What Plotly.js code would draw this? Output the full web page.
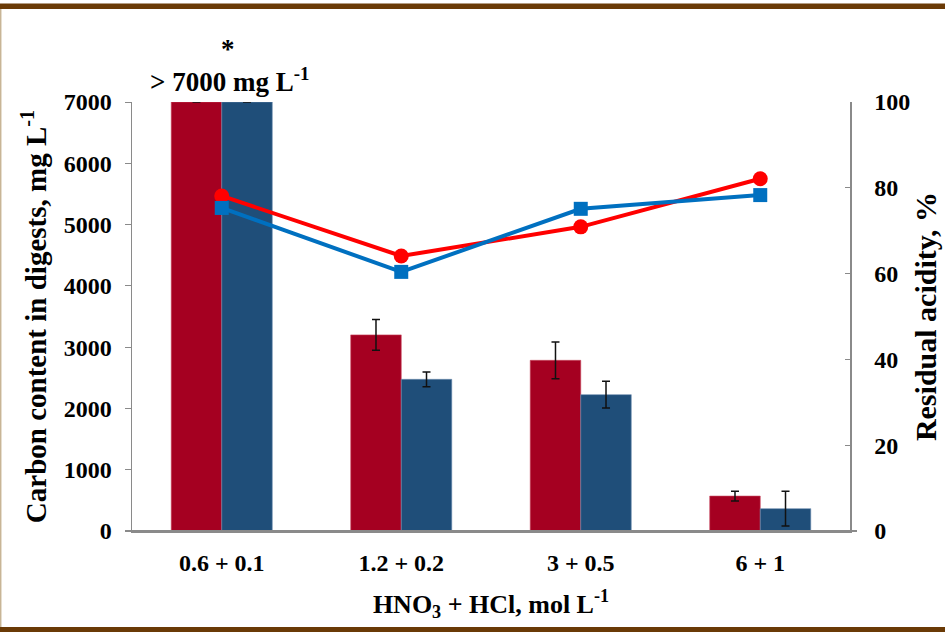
<!DOCTYPE html>
<html>
<head>
<meta charset="utf-8">
<script src="https://cdn.plot.ly/plotly-3.0.1.min.js"></script>
<style>
html,body{margin:0;padding:0;background:#fff;}
#chart{width:945px;height:632px;}
</style>
</head>
<body>
<div id="chart"></div>
<script>
// Data
const categories = ["0.6 + 0.1", "1.2 + 0.2", "3 + 0.5", "6 + 1"];
const carbonRed = [7000, 3200, 2785, 570];
const carbonRedErr = [0, 250, 300, 80];
const carbonBlue = [7000, 2475, 2225, 365];
const carbonBlueErr = [0, 120, 220, 285];
const acidityRed = [78.1, 64.1, 70.9, 82.1];
const acidityBlue = [75.3, 60.4, 75.1, 78.3];
const leftTicks = [0, 1000, 2000, 3000, 4000, 5000, 6000, 7000];
const rightTicks = [0, 20, 40, 60, 80, 100];

const FONT = "Liberation Serif, Times New Roman, serif";
const BRED = "#A50021", BBLUE = "#1F4E79";
const LRED = "#FF0000", LBLUE = "#0070C0";

const traces = [
  {
    type: "bar", x: categories, y: carbonRed, name: "C red",
    marker: {color: BRED, line: {color: "#c9485f", width: 0.6}},
    error_y: {type: "data", array: carbonRedErr, visible: true, color: "#111", thickness: 1.5, width: 4}
  },
  {
    type: "bar", x: categories, y: carbonBlue, name: "C blue",
    marker: {color: BBLUE, line: {color: "#6f8fb0", width: 0.6}},
    error_y: {type: "data", array: carbonBlueErr, visible: true, color: "#111", thickness: 1.5, width: 4}
  },
  {
    type: "scatter", mode: "lines+markers", x: categories, y: acidityRed, yaxis: "y2",
    line: {color: LRED, width: 4}, marker: {symbol: "circle", size: 15, color: LRED},
    cliponaxis: false
  },
  {
    type: "scatter", mode: "lines+markers", x: categories, y: acidityBlue, yaxis: "y2",
    line: {color: LBLUE, width: 4}, marker: {symbol: "square", size: 14, color: LBLUE},
    cliponaxis: false
  }
];

const px = v => (v - 132) / 718;
const py = v => (531 - v) / 429;

const layout = {
  width: 945, height: 632,
  margin: {l: 132, r: 95, t: 102, b: 101, pad: 0},
  paper_bgcolor: "#ffffff", plot_bgcolor: "#ffffff",
  showlegend: false,
  barmode: "group",
  bargap: 0.437, bargroupgap: 0,
  font: {family: FONT, size: 24, color: "#000", weight: "bold"},
  xaxis: {
    type: "category",
    showline: true, linecolor: "#8a8a8a", linewidth: 2,
    ticks: "", showgrid: false, zeroline: false,
    tickfont: {family: FONT, size: 24, color: "#000", weight: "bold"},
    ticklabelstandoff: 9,
    title: {text: "HNO<sub>3</sub> + HCl, mol L<sup>-1</sup>", font: {family: FONT, size: 26, color: "#000", weight: "bold"}, standoff: 20}
  },
  yaxis: {
    range: [0, 7000], tickvals: leftTicks, ticktext: leftTicks.map(String),
    showline: true, linecolor: "#8a8a8a", linewidth: 1.5,
    ticks: "outside", ticklen: 6, tickcolor: "#8a8a8a", tickwidth: 1,
    showgrid: false, zeroline: false,
    tickfont: {family: FONT, size: 24, color: "#000", weight: "bold"},
    ticklabelstandoff: 8,
    title: {text: "Carbon content in digests, mg L<sup>-1</sup>", font: {family: FONT, size: 29, color: "#000", weight: "bold"}, standoff: 8}
  },
  yaxis2: {
    overlaying: "y", side: "right",
    range: [0, 100], tickvals: rightTicks, ticktext: rightTicks.map(String),
    showline: true, linecolor: "#8a8a8a", linewidth: 1.5,
    ticks: "inside", ticklen: 5, tickcolor: "#8a8a8a", tickwidth: 1,
    showgrid: false, zeroline: false,
    tickfont: {family: FONT, size: 24, color: "#000", weight: "bold"},
    ticklabelstandoff: 18,
    title: {text: "Residual acidity, %", font: {family: FONT, size: 30, color: "#000", weight: "bold"}, standoff: 5}
  },
  annotations: [
    {xref: "x", yref: "paper", x: 0, y: py(49), xshift: 6, text: "*", showarrow: false,
     font: {family: FONT, size: 27, color: "#000", weight: "bold"}, yanchor: "middle"},
    {xref: "x", yref: "paper", x: 0, y: py(80), xshift: 8, text: "> 7000 mg L<sup>-1</sup>", showarrow: false,
     font: {family: FONT, size: 27, color: "#000", weight: "bold"}, yanchor: "middle"}
  ],
  shapes: [
    {type: "rect", xref: "paper", yref: "paper", x0: px(0), x1: px(945), y0: py(3.5), y1: py(9),
     fillcolor: "#6a3a06", line: {width: 0}, layer: "above"},
    {type: "rect", xref: "paper", yref: "paper", x0: px(0), x1: px(945), y0: py(627), y1: py(632),
     fillcolor: "#6a3a06", line: {width: 0}, layer: "above"},
    {type: "line", xref: "paper", yref: "paper", x0: px(0.7), x1: px(0.7), y0: py(9), y1: py(627),
     line: {color: "#c8b596", width: 1.5}, layer: "above"},
    {type: "line", xref: "paper", yref: "paper", x0: px(125), x1: px(857), y0: 0, y1: 0,
     line: {color: "#8a8a8a", width: 2}, layer: "above"}
  ]
};

Plotly.newPlot("chart", traces, layout, {staticPlot: true, displayModeBar: false});
</script>
</body>
</html>
